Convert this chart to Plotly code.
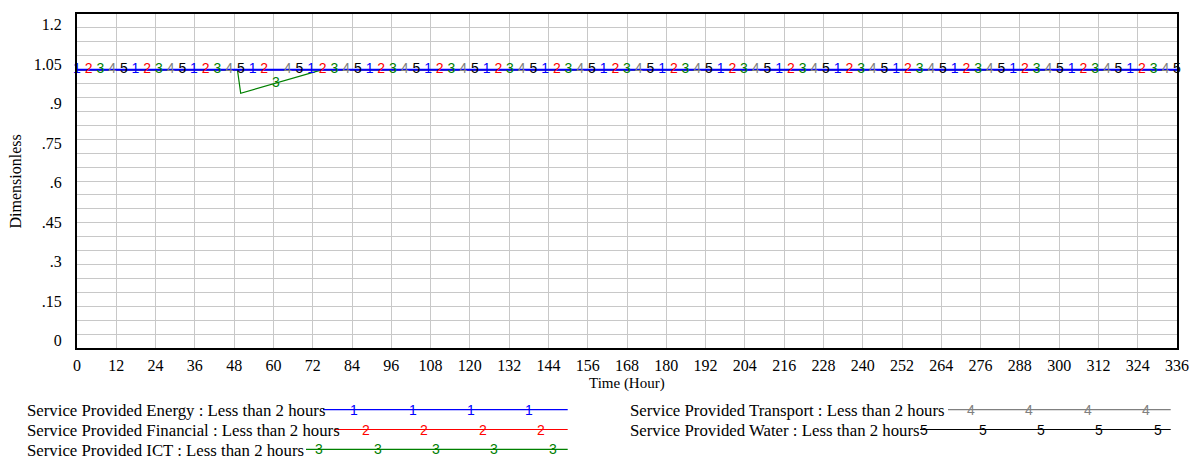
import numpy as np
import plotly.graph_objects as go

# ---------------- data ----------------
x_tick_values = [0, 12, 24, 36, 48, 60, 72, 84, 96, 108, 120, 132, 144, 156, 168, 180,
                 192, 204, 216, 228, 240, 252, 264, 276, 288, 300, 312, 324, 336]
x_tick_labels = [str(v) for v in x_tick_values]
y_tick_labels = ["0", ".15", ".3", ".45", ".6", ".75", ".9", "1.05", "1.2"]

series_names = [
    "Service Provided Energy : Less than 2 hours",
    "Service Provided Financial : Less than 2 hours",
    "Service Provided ICT : Less than 2 hours",
    "Service Provided Transport : Less than 2 hours",
    "Service Provided Water : Less than 2 hours",
]
series_ids = ["1", "2", "3", "4", "5"]

energy_time = [0, 336]
energy = [1, 1]
financial_time = [0, 336]
financial = [1, 1]
ict_time = [0, 49, 50, 75, 336]
ict = [1, 1, 0.915, 1, 1]
transport_time = [0, 336]
transport = [1, 1]
water_time = [0, 336]
water = [1, 1]

# ---------------- styles ----------------
colors = ["#0000ff", "#ff0000", "#008000", "#808080", "#000000"]
line_widths = [2, 1.2, 1.2, 1.2, 1.2]
SERIF = "Liberation Serif, Times New Roman, serif"
SANS = "Liberation Sans, Arial, sans-serif"

W, H = 1201, 462
L, R, T, B = 77, 1177, 12, 348  # plot area in pixels


def px(x):
    return (x - L) / (R - L)


def py(y):
    return (B - y) / (B - T)


data = [
    (energy_time, energy),
    (financial_time, financial),
    (ict_time, ict),
    (transport_time, transport),
    (water_time, water),
]

fig = go.Figure()

# lines (blue drawn last so it is on top)
for k in [4, 3, 2, 1, 0]:
    t, v = data[k]
    fig.add_trace(go.Scatter(x=t, y=v, mode="lines",
                             line=dict(color=colors[k], width=line_widths[k]),
                             hoverinfo="skip", showlegend=False))

# digit markers: 95 evenly spaced symbols, cycling through series
n_sym = 95
for k in range(5):
    idx = np.arange(k, n_sym, 5)
    tm = 336 * idx / (n_sym - 1)
    t, v = data[k]
    vm = np.interp(tm, t, v)
    fig.add_trace(go.Scatter(x=tm, y=vm, mode="text", text=[series_ids[k]] * len(tm),
                             textposition="middle center",
                             textfont=dict(family=SANS, size=14, color=colors[k]),
                             cliponaxis=False, hoverinfo="skip", showlegend=False))

# y tick label positions (spread evenly, Vensim style)
y_label_pos = list(np.linspace(py(340.5), py(22.5), len(y_tick_labels)))

grid = "#c8c8c8"
fig.update_layout(
    width=W, height=H,
    margin=dict(l=L, r=W - R, t=T, b=H - B, pad=0),
    paper_bgcolor="white", plot_bgcolor="white",
    showlegend=False,
    xaxis=dict(range=[0, 336], tickmode="array", tickvals=x_tick_values, ticktext=x_tick_labels,
               showgrid=True, gridcolor=grid, gridwidth=1, zeroline=False,
               showline=True, linecolor="black", linewidth=2, mirror=True, ticks="",
               tickfont=dict(family=SERIF, size=16, color="black"), ticklabelstandoff=2),
    yaxis=dict(range=[0, 1.2], tickmode="array",
               tickvals=[p * 1.2 for p in y_label_pos], ticktext=y_tick_labels,
               showgrid=False, zeroline=False,
               minor=dict(tickmode="linear", tick0=0, dtick=0.05, showgrid=True,
                          gridcolor=grid, gridwidth=1, ticks=""),
               showline=True, linecolor="black", linewidth=2, mirror=True, ticks="",
               tickfont=dict(family=SERIF, size=16, color="black"), ticklabelstandoff=10),
)

annotations = []
shapes = []
# axis titles
annotations.append(dict(text="Time (Hour)", xref="paper", yref="paper", x=px(627), y=py(384),
                        xanchor="center", yanchor="middle", showarrow=False,
                        font=dict(family=SERIF, size=15, color="black")))
annotations.append(dict(text="Dimensionless", xref="paper", yref="paper", x=px(15.5), y=py(181),
                        xanchor="center", yanchor="middle", showarrow=False, textangle=-90,
                        font=dict(family=SERIF, size=16, color="black")))

# custom legend
text_x = [25.2, 25.2, 25.2, 628.1, 628.1]
row_y = [410, 430, 450, 410, 430]
line_start = [323, 335, 306, 948, 920]
line_end = [567.7, 567.7, 567.7, 1170.7, 1170.7]
grid_base = [296, 296, 296, 877.7, 877.7]
step = 58.33
for k in range(5):
    annotations.append(dict(text=series_names[k], xref="paper", yref="paper",
                            x=px(text_x[k]), y=py(row_y[k] + 1), xanchor="left", yanchor="middle",
                            showarrow=False, font=dict(family=SERIF, size=16.8, color="black")))
    shapes.append(dict(type="line", xref="paper", yref="paper",
                       x0=px(line_start[k]), x1=px(line_end[k]), y0=py(row_y[k]), y1=py(row_y[k]),
                       line=dict(color=colors[k], width=1.2)))
    pos = grid_base[k] + (step / 5) * (k % 5)
    while pos < line_end[k]:
        if pos > line_start[k]:
            annotations.append(dict(text=series_ids[k], xref="paper", yref="paper",
                                    x=px(pos), y=py(row_y[k]), xanchor="center", yanchor="middle",
                                    showarrow=False,
                                    font=dict(family=SANS, size=14, color=colors[k])))
        pos += step

fig.update_layout(annotations=annotations, shapes=shapes)
fig.write_html("out.html", config={"displayModeBar": False},
               post_script="document.body.style.margin='0';document.body.style.padding='0';"
                           "document.documentElement.style.overflow='hidden';")
